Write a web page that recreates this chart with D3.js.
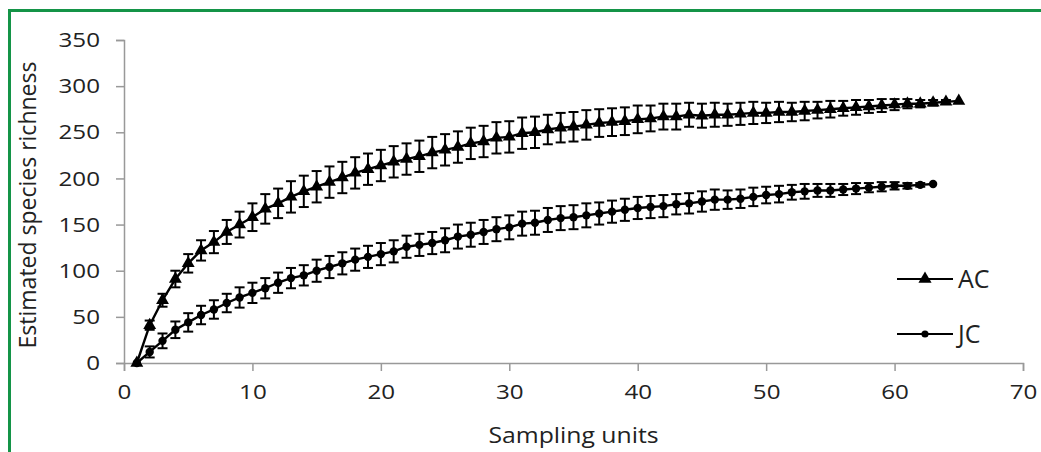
<!DOCTYPE html>
<html>
<head>
<meta charset="utf-8">
<script src="https://cdn.jsdelivr.net/npm/d3@7"></script>
<style>
  body { margin: 0; background: #fff; }
  svg text { font-family: "Open Sans", sans-serif; fill: #222; }
</style>
</head>
<body>
<div id="chart"></div>
<script>
// sampling units (x) for each curve
var acUnits = d3.range(1, 66);
var jcUnits = d3.range(1, 64);

// AC estimated richness and error
var acValues = [0, 41, 68, 91, 108, 122, 131, 142, 150, 158,
  167, 173, 180, 186, 191, 196, 201, 206, 210, 214,
  218, 221, 224, 228, 231, 234, 238, 240, 244, 245,
  249, 250, 253, 255, 256, 258, 260, 261, 262, 264,
  265, 267, 267, 269, 268, 269, 269, 270, 271, 271,
  272, 272, 273, 274, 275, 276, 277, 278, 279, 280,
  281, 281, 282, 283, 284];
var acErr = [0, 5, 7, 9, 10, 11, 12, 13, 14, 15,
  16, 16, 17, 17, 17, 17, 17, 17, 17, 17,
  17, 17, 17, 17, 17, 17, 17, 17, 17, 17,
  17, 17, 16, 16, 16, 16, 15, 15, 15, 15,
  14, 14, 14, 13, 13, 13, 12, 12, 12, 11,
  11, 10, 10, 9, 9, 8, 8, 7, 7, 6,
  5, 4, 3, 2, 0];

// JC estimated richness and error
var jcValues = [0, 12, 24, 36, 44, 52, 58, 65, 71, 76,
  81, 87, 92, 95, 100, 104, 108, 112, 115, 118,
  121, 126, 128, 130, 133, 137, 139, 142, 145, 147,
  151, 152, 155, 157, 158, 160, 162, 164, 166, 168,
  169, 170, 172, 173, 175, 177, 177, 178, 180, 182,
  183, 185, 186, 187, 187, 188, 189, 190, 191, 192,
  192, 193, 194];
var jcErr = [0, 6, 8, 9, 10, 10, 10, 10, 11, 11,
  11, 11, 11, 11, 12, 12, 12, 12, 12, 12,
  12, 12, 12, 12, 13, 13, 13, 13, 13, 13,
  13, 13, 13, 13, 13, 13, 12, 12, 12, 12,
  12, 12, 11, 11, 11, 11, 10, 10, 10, 9,
  9, 8, 8, 7, 7, 6, 6, 5, 5, 4,
  3, 2, 0];

var xTicks = [0, 10, 20, 30, 40, 50, 60, 70];
var yTicks = [0, 50, 100, 150, 200, 250, 300, 350];

var width = 1041, height = 452;
var margin = { top: 40, right: 18, bottom: 89, left: 124 };
var stretch = 1.18;   // the original figure's text is a bit wide

var svg = d3.select("#chart").append("svg")
  .attr("width", width)
  .attr("height", height);

// green frame round the figure (runs off the right and bottom edge)
svg.append("rect")
  .attr("x", 9.5).attr("y", 10.5)
  .attr("width", 1100).attr("height", 500)
  .attr("fill", "none")
  .attr("stroke", "#149447")
  .attr("stroke-width", 3);

var x = d3.scaleLinear().domain([0, 70]).range([margin.left, width - margin.right]);
var y = d3.scaleLinear().domain([0, 350]).range([height - margin.bottom, margin.top]);

// axes
var xAxis = svg.append("g")
  .attr("transform", "translate(0," + y(0) + ")")
  .call(d3.axisBottom(x).tickValues(xTicks).tickSize(8).tickPadding(13));
var yAxis = svg.append("g")
  .attr("transform", "translate(" + x(0) + ",0)")
  .call(d3.axisLeft(y).tickValues(yTicks).tickSize(8).tickPadding(16));

[xAxis, yAxis].forEach(function(g) {
  g.select(".domain").attr("stroke", "#999").attr("stroke-width", 1.5);
  g.selectAll(".tick line").attr("stroke", "#999").attr("stroke-width", 1.5);
  g.selectAll(".tick text")
    .style("font-family", "'Open Sans', sans-serif")
    .style("font-size", "20.5px")
    .attr("fill", "#222")
    .each(function() {
      var t = d3.select(this);
      var tx = +t.attr("x") || 0;
      t.attr("x", 0).attr("transform", "translate(" + tx + ",0) scale(" + stretch + ",1)");
    });
});

// axis titles
svg.append("text")
  .attr("transform", "translate(" + x(35) + ",443) scale(" + stretch + ",1)")
  .attr("text-anchor", "middle")
  .style("font-size", "21px")
  .text("Sampling units");
svg.append("text")
  .attr("transform", "translate(36,205) rotate(-90)")
  .attr("text-anchor", "middle")
  .style("font-size", "23px")
  .text("Estimated species richness");

function drawSeries(units, values, errs, shape) {
  var pts = units.map(function(u, i) { return { u: u, v: values[i], e: errs[i] }; });
  var g = svg.append("g");

  // error bars
  var bars = g.selectAll(".err").data(pts.filter(function(d) { return d.e > 0; }))
    .enter().append("g");
  bars.append("line")
    .attr("x1", function(d) { return x(d.u); })
    .attr("x2", function(d) { return x(d.u); })
    .attr("y1", function(d) { return y(d.v - d.e); })
    .attr("y2", function(d) { return y(d.v + d.e); })
    .attr("stroke", "#000").attr("stroke-width", 2);
  bars.selectAll(".cap").data(function(d) { return [d.v - d.e, d.v + d.e].map(function(v) { return { u: d.u, v: v }; }); })
    .enter().append("line")
    .attr("x1", function(d) { return x(d.u) - 5; })
    .attr("x2", function(d) { return x(d.u) + 5; })
    .attr("y1", function(d) { return y(d.v); })
    .attr("y2", function(d) { return y(d.v); })
    .attr("stroke", "#000").attr("stroke-width", 2);

  // the curve
  g.append("path")
    .datum(pts)
    .attr("d", d3.line().x(function(d) { return x(d.u); }).y(function(d) { return y(d.v); }))
    .attr("fill", "none")
    .attr("stroke", "#000")
    .attr("stroke-width", 2.4);

  // markers
  g.selectAll(".mk").data(pts).enter().append("path")
    .attr("transform", function(d) { return "translate(" + x(d.u) + "," + y(d.v) + ")"; })
    .attr("d", shape)
    .attr("fill", "#000");
}

var tri = d3.symbol().type(d3.symbolTriangle).size(72)();
var dot = d3.symbol().type(d3.symbolCircle).size(55)();

drawSeries(acUnits, acValues, acErr, tri);
drawSeries(jcUnits, jcValues, jcErr, dot);

// legend
var legend = [
  { name: "AC", shape: d3.symbol().type(d3.symbolTriangle).size(75)(), y: 279 },
  { name: "JC", shape: d3.symbol().type(d3.symbolCircle).size(40)(), y: 334 }
];
var lg = svg.selectAll(".legend").data(legend).enter().append("g")
  .attr("transform", function(d) { return "translate(897," + d.y + ")"; });
lg.append("line")
  .attr("x1", 0).attr("x2", 56)
  .attr("stroke", "#000").attr("stroke-width", 2);
lg.append("path")
  .attr("transform", "translate(28,0)")
  .attr("d", function(d) { return d.shape; })
  .attr("fill", "#000");
lg.append("text")
  .attr("x", 61).attr("dy", "0.36em")
  .style("font-size", "25px")
  .text(function(d) { return d.name; });
</script>
</body>
</html>
